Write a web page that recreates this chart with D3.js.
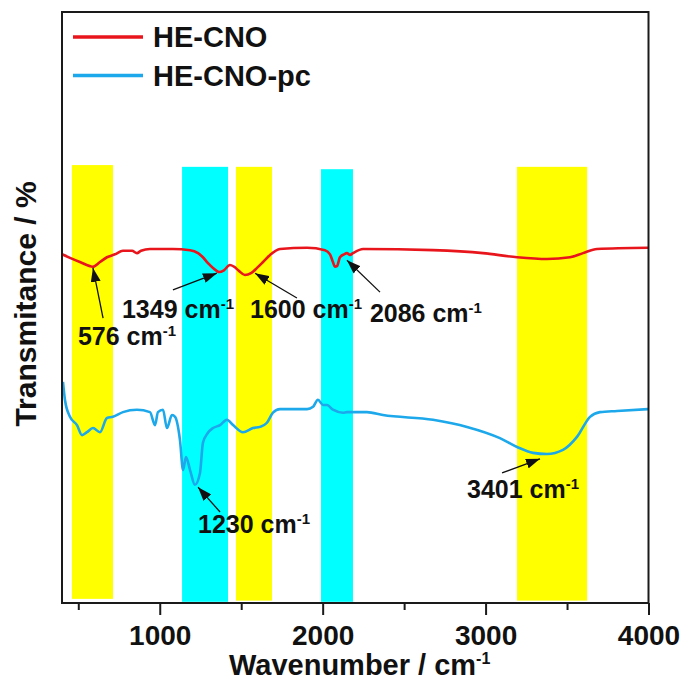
<!DOCTYPE html>
<html lang="en">
<head>
    <meta charset="UTF-8">
    <title>FTIR HE-CNO</title>
    <style>
        body { margin: 0; background: #fff; }
        text { font-family: "Liberation Sans", Arial, sans-serif; font-weight: bold; }
    </style>
</head>
<body>

<div id="content"></div>

<script src="https://d3js.org/d3.v7.min.js"></script>
<script>

    // wavenumber (cm-1) and transmittance (arbitrary, offset)
    var heCnoWave = [400, 449, 510, 590, 633, 676, 725, 774, 830, 860, 885, 940, 1081, 1186, 1235, 1265, 1296, 1327,
        1364, 1394, 1431, 1456, 1486, 1523, 1560, 1597, 1634, 1677, 1738, 1904, 2014, 2045, 2063, 2076, 2088, 2106,
        2131, 2149, 2168, 2186, 2248, 2677, 2984, 3193, 3377, 3518, 3598, 3684, 3997];
    var heCnoT = [59.0, 58.4, 57.7, 56.9, 57.7, 58.5, 59.0, 59.6, 59.6, 59.2, 59.6, 59.9, 59.9, 59.7, 59.2, 58.5, 57.5, 56.7,
        56.0, 56.3, 57.2, 56.9, 56.2, 55.5, 55.8, 56.7, 57.7, 58.9, 59.9, 60.1, 59.7, 59.0, 57.7, 56.9, 57.0, 58.5,
        59.0, 59.2, 58.9, 59.2, 59.9, 59.7, 59.2, 58.5, 58.2, 58.5, 59.2, 59.9, 60.1];

    var heCnoPcWave = [406, 418, 449, 492, 523, 553, 590, 633, 676, 713, 774, 860, 940, 971, 989, 1020, 1044, 1075, 1094,
        1124, 1143, 1161, 1186, 1216, 1247, 1265, 1296, 1327, 1370, 1413, 1450, 1511, 1572, 1615, 1658, 1695, 1738,
        1904, 1941, 1971, 2002, 2027, 2063, 2125, 2149, 2272, 2370, 2677, 2886, 3088, 3193, 3291, 3377, 3475, 3561,
        3641, 3702, 3807, 3997];
    var heCnoPcT = [37.4, 34.4, 31.5, 30.1, 28.4, 28.9, 29.6, 28.9, 31.3, 31.5, 32.3, 32.7, 32.3, 30.1, 32.3, 32.7, 29.6, 31.8, 31.5,
        27.6, 22.5, 24.7, 22.5, 20.0, 22.0, 27.1, 28.8, 29.6, 30.1, 31.0, 30.1, 28.9, 29.6, 29.8, 30.5, 32.2, 32.8,
        32.8, 33.2, 34.4, 33.5, 33.5, 32.7, 32.2, 32.3, 32.3, 31.8, 31.0, 29.8, 27.9, 26.4, 25.4, 25.2, 25.9, 28.1,
        31.5, 32.3, 32.5, 32.8];

    var seriesNames = ["HE-CNO", "HE-CNO-pc"];
    var seriesColors = ["#e8161c", "#1ca8ea"];

    // highlighted bands
    var bandStart = [461, 1137, 1468, 1990, 3193];
    var bandEnd = [713, 1419, 1689, 2186, 3623];
    var bandTop = [74.1, 73.8, 73.8, 73.4, 73.8];
    var bandBottom = [0.7, 0.2, 0.4, 0.2, 0.4];
    var bandColors = ["#ffff00", "#00ffff", "#ffff00", "#00ffff", "#ffff00"];

    // peak labels: text anchor, arrow tail, arrow tip (wavenumber, T)
    var peakLabels = ["576", "1349", "1600", "2086", "1230", "3401"];
    var labelX = [498, 768, 1554, 2290, 1235, 2886];
    var labelY = [43.6, 48.2, 48.2, 47.5, 11.8, 17.8];
    var tailX = [652, 1081, 1842, 2352, 1370, 3101];
    var tailY = [48.2, 53.0, 51.6, 52.6, 15.4, 22.0];
    var tipX = [590, 1351, 1585, 2149, 1235, 3334];
    var tipY = [56.7, 55.8, 55.8, 58.0, 19.6, 24.4];

    var majorTicks = [1000, 2000, 3000, 4000];
    var minorTicks = [500, 1500, 2500, 3500];

    var width = 684, height = 682;
    var plotLeft = 62, plotRight = 648.5, plotTop = 12, plotBottom = 603;

    var svg = d3.select("#content")
        .append("svg")
        .attr("width", width)
        .attr("height", height);

    var xScale = d3.scaleLinear().domain([400, 4000]).range([plotLeft, plotRight]);
    var yScale = d3.scaleLinear().domain([0, 100]).range([plotBottom, plotTop]);

    //bands
    svg.append("g").selectAll("rect")
        .data(bandStart)
        .enter().append("rect")
        .attr("x", function (d) { return xScale(d); })
        .attr("width", function (d, i) { return xScale(bandEnd[i]) - xScale(d); })
        .attr("y", function (d, i) { return yScale(bandTop[i]); })
        .attr("height", function (d, i) { return yScale(bandBottom[i]) - yScale(bandTop[i]); })
        .attr("fill", function (d, i) { return bandColors[i]; });

    //curves
    var lineSegment = d3.line()
        .x(function (d) { return xScale(d[0]); })
        .y(function (d) { return yScale(d[1]); })
        .curve(d3.curveMonotoneX);

    var curves = [d3.zip(heCnoWave, heCnoT), d3.zip(heCnoPcWave, heCnoPcT)];
    curves.forEach(function (c, i) {
        svg.append("path")
            .datum(c)
            .attr("d", lineSegment)
            .attr("fill", "none")
            .attr("stroke", seriesColors[i])
            .attr("stroke-width", 2.6)
            .attr("stroke-linejoin", "round");
    });

    //arrow head
    svg.append("defs").append("marker")
        .attr("id", "head")
        .attr("markerUnits", "userSpaceOnUse")
        .attr("viewBox", "0 0 14 10")
        .attr("refX", 14).attr("refY", 5)
        .attr("markerWidth", 14).attr("markerHeight", 10)
        .attr("orient", "auto")
        .append("path")
        .attr("d", "M0,0 L14,5 L0,10 Z")
        .attr("fill", "#111");

    var ann = svg.append("g");
    peakLabels.forEach(function (p, i) {
        ann.append("line")
            .attr("x1", xScale(tailX[i])).attr("y1", yScale(tailY[i]))
            .attr("x2", xScale(tipX[i])).attr("y2", yScale(tipY[i]))
            .attr("stroke", "#111")
            .attr("stroke-width", 1.3)
            .attr("marker-end", "url(#head)");
        var t = ann.append("text")
            .attr("x", xScale(labelX[i]))
            .attr("y", yScale(labelY[i]))
            .attr("font-size", 25)
            .attr("fill", "#111");
        t.append("tspan").text(p + " cm");
        t.append("tspan").attr("font-size", 15).attr("dy", -9).text("-1");
    });

    //frame
    svg.append("rect")
        .attr("x", plotLeft).attr("y", plotTop)
        .attr("width", plotRight - plotLeft).attr("height", plotBottom - plotTop)
        .attr("fill", "none")
        .attr("stroke", "#1a1a1a")
        .attr("stroke-width", 2);

    //axis
    var xAxis = d3.axisBottom(xScale).tickValues(majorTicks).tickSize(12).tickSizeOuter(0)
        .tickPadding(10).tickFormat(d3.format("d"));
    var xMinor = d3.axisBottom(xScale).tickValues(minorTicks).tickSize(7).tickSizeOuter(0).tickFormat("");

    var xAxisG = svg.append("g")
        .attr("transform", "translate(0," + plotBottom + ")")
        .call(xAxis);
    var xMinorG = svg.append("g")
        .attr("transform", "translate(0," + plotBottom + ")")
        .call(xMinor);

    svg.selectAll(".domain").remove();
    svg.selectAll(".tick line").attr("stroke", "#1a1a1a").attr("stroke-width", 2);
    xAxisG.selectAll("text")
        .attr("font-size", 28)
        .attr("font-family", "'Liberation Sans', Arial, sans-serif")
        .attr("fill", "#111");

    //titles
    var xt = svg.append("text")
        .attr("x", 229).attr("y", 675)
        .attr("font-size", 29)
        .attr("fill", "#111");
    xt.append("tspan").text("Wavenumber / cm");
    xt.append("tspan").attr("font-size", 16).attr("dy", -11).text("-1");

    svg.append("text")
        .attr("transform", "translate(36," + 304 + ") rotate(-90)")
        .attr("text-anchor", "middle")
        .attr("font-size", 30)
        .attr("fill", "#111")
        .text("Transmitance / %");

    //legend
    seriesNames.forEach(function (name, i) {
        var ly = 37 + i * 38.5;
        svg.append("line")
            .attr("x1", 73).attr("x2", 143)
            .attr("y1", ly).attr("y2", ly)
            .attr("stroke", seriesColors[i])
            .attr("stroke-width", 3.5);
        svg.append("text")
            .attr("x", 153).attr("y", ly + 10)
            .attr("font-size", 29)
            .attr("fill", "#111")
            .text(name);
    });

</script>

</body>
</html>
